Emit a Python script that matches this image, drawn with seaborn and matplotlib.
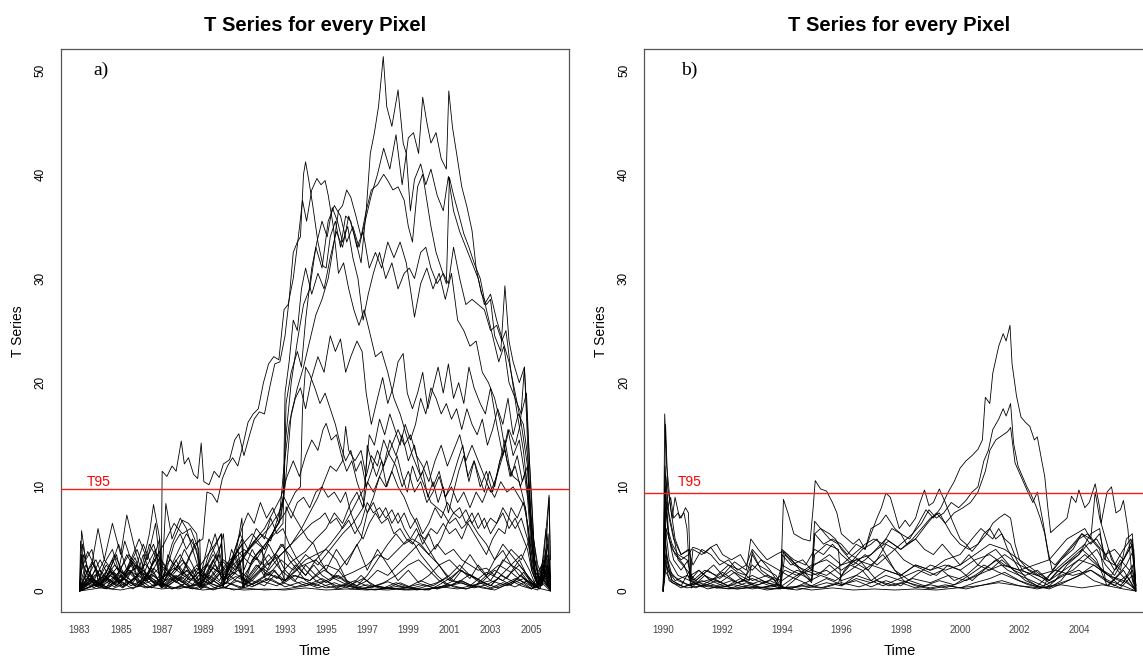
import numpy as np
import pandas as pd
import matplotlib
matplotlib.use("Agg")
import matplotlib.pyplot as plt
import seaborn as sns

# ---------------- data: panel a (1983-2005, T series per pixel) -------------
A01 = [(1983.0,0.2),(1983.5,1.0),(1984.0,0.6),(1984.6,1.8),(1985.2,1.2),(1985.8,2.4),(1986.4,1.5),(1987.0,0.3),(1987.6,1.2),(1988.3,2.0),(1988.9,0.4),(1989.5,1.5),(1990.0,2.8),(1990.5,1.6),(1991.0,3.5),(1991.5,4.8),(1992.0,4.0),(1992.4,5.5),(1992.8,7.0),(1992.92,9.0),(1993.0,19.0),(1993.2,22.0),(1993.4,26.0),(1993.6,25.0),(1993.8,29.0),(1994.0,31.0),(1994.3,28.5),(1994.6,30.5),(1994.9,29.0),(1995.2,32.0),(1995.5,34.5),(1995.8,33.0),(1996.1,36.0),(1996.4,34.0),(1996.7,31.5),(1996.95,36.5),(1997.15,42.0),(1997.35,44.0),(1997.55,46.5),(1997.78,51.3),(1997.95,46.5),(1998.2,44.6),(1998.5,48.1),(1998.75,43.0),(1998.9,42.0),(1999.1,36.5),(1999.3,39.5),(1999.6,41.0),(1999.85,39.0),(2000.1,40.5),(2000.4,38.0),(2000.7,36.5),(2000.95,39.8),(2001.2,36.5),(2001.5,34.5),(2001.8,33.0),(2002.1,31.5),(2002.4,30.0),(2002.7,27.5),(2003.0,28.5),(2003.3,26.0),(2003.6,24.0),(2003.9,22.0),(2004.2,19.0),(2004.5,16.0),(2004.8,12.0),(2005.0,6.0),(2005.2,1.5),(2005.5,2.5),(2005.75,1.0),(2005.92,0.3)]
A02 = [(1983.0,0.0),(1983.4,0.8),(1984.0,0.3),(1984.7,1.4),(1985.3,0.6),(1986.0,1.9),(1986.6,0.8),(1987.3,1.6),(1988.0,0.5),(1988.7,2.2),(1989.4,1.0),(1990.1,2.5),(1990.7,3.8),(1991.3,2.6),(1991.9,4.2),(1992.5,5.5),(1992.9,6.5),(1993.0,14.0),(1993.3,20.0),(1993.6,24.0),(1993.9,27.5),(1994.2,29.0),(1994.5,33.0),(1994.8,31.0),(1995.1,35.5),(1995.4,37.0),(1995.7,36.0),(1996.0,33.5),(1996.3,35.0),(1996.6,33.0),(1996.9,35.5),(1997.2,38.0),(1997.5,40.0),(1997.8,42.5),(1998.1,40.5),(1998.4,43.8),(1998.7,39.0),(1999.0,43.5),(1999.25,44.0),(1999.5,42.0),(1999.7,47.4),(1999.9,45.0),(2000.1,43.0),(2000.35,44.0),(2000.6,41.5),(2000.85,40.5),(2000.97,48.0),(2001.15,44.5),(2001.35,42.0),(2001.6,38.8),(2001.85,36.9),(2002.1,34.6),(2002.3,31.0),(2002.55,28.6),(2002.8,27.5),(2003.0,28.0),(2003.2,24.5),(2003.5,23.0),(2003.7,29.3),(2003.9,24.0),(2004.1,22.0),(2004.4,20.0),(2004.65,21.5),(2004.85,14.0),(2005.0,9.0),(2005.15,3.0),(2005.4,1.0),(2005.7,3.5),(2005.92,0.5)]
A03 = [(1983.0,0.5),(1983.3,2.5),(1983.7,1.0),(1984.2,3.0),(1984.8,1.5),(1985.4,3.5),(1986.0,2.0),(1986.6,4.5),(1986.98,2.0),(1987.02,11.5),(1987.25,11.0),(1987.5,12.0),(1987.7,11.5),(1987.95,14.4),(1988.1,12.2),(1988.3,12.8),(1988.55,11.2),(1988.75,10.8),(1988.92,14.2),(1989.05,10.5),(1989.3,10.2),(1989.55,11.5),(1989.8,10.9),(1990.0,12.2),(1990.3,12.6),(1990.55,14.5),(1990.75,15.1),(1991.0,13.0),(1991.25,14.8),(1991.5,16.5),(1991.75,17.2),(1992.0,17.0),(1992.25,19.5),(1992.5,21.8),(1992.75,22.0),(1993.0,24.5),(1993.2,28.0),(1993.4,32.5),(1993.6,33.5),(1993.75,34.0),(1993.9,40.0),(1994.0,41.2),(1994.15,39.5),(1994.35,37.0),(1994.6,33.5),(1994.85,31.2),(1995.0,31.0),(1995.2,34.0),(1995.45,35.5),(1995.7,33.0),(1995.95,36.0),(1996.2,35.5),(1996.5,33.0),(1996.8,34.5),(1997.1,31.0),(1997.4,32.5),(1997.7,31.0),(1998.0,33.5),(1998.3,32.0),(1998.6,33.5),(1998.9,31.5),(1999.1,29.0),(1999.3,26.3),(1999.6,29.5),(1999.9,31.0),(2000.2,29.0),(2000.5,30.5),(2000.8,28.0),(2001.1,30.5),(2001.4,26.0),(2001.7,25.0),(2002.0,23.5),(2002.3,24.0),(2002.6,21.0),(2002.9,20.0),(2003.2,18.5),(2003.5,16.0),(2003.8,12.5),(2004.1,11.0),(2004.4,10.5),(2004.7,8.0),(2004.9,4.0),(2005.1,1.5),(2005.4,0.5),(2005.7,2.0),(2005.92,0.2)]
A04 = [(1983.0,0.0),(1983.6,1.2),(1984.3,0.4),(1985.0,2.0),(1985.6,0.8),(1986.2,2.6),(1986.8,1.2),(1987.4,3.0),(1988.0,1.8),(1988.6,4.5),(1989.0,5.0),(1989.2,9.5),(1989.45,9.3),(1989.7,8.5),(1989.95,10.8),(1990.2,12.0),(1990.45,12.8),(1990.7,12.0),(1990.95,14.0),(1991.2,16.2),(1991.45,17.0),(1991.7,17.5),(1991.95,20.0),(1992.2,21.8),(1992.45,22.5),(1992.7,22.2),(1992.95,27.0),(1993.15,27.5),(1993.4,30.0),(1993.65,34.0),(1993.85,37.5),(1994.05,35.5),(1994.3,38.5),(1994.55,39.6),(1994.75,39.0),(1994.95,39.4),(1995.1,38.0),(1995.35,35.0),(1995.6,30.5),(1995.85,31.5),(1996.1,29.0),(1996.35,27.0),(1996.6,25.5),(1996.85,27.0),(1997.1,25.0),(1997.4,22.5),(1997.7,23.0),(1998.0,21.0),(1998.3,18.5),(1998.6,17.0),(1998.9,15.0),(1999.2,13.0),(1999.5,11.5),(1999.8,10.0),(2000.1,8.5),(2000.4,8.0),(2000.7,7.5),(2001.0,6.5),(2001.3,7.0),(2001.6,6.0),(2002.0,6.8),(2002.4,5.5),(2002.8,4.5),(2003.2,3.0),(2003.6,4.5),(2004.0,3.5),(2004.4,2.5),(2004.8,1.5),(2005.2,0.5),(2005.6,1.5),(2005.92,0.2)]
A05 = [(1983.0,0.3),(1983.5,1.5),(1984.1,0.5),(1984.8,2.2),(1985.5,1.0),(1986.1,2.0),(1986.7,0.6),(1987.3,1.8),(1988.0,0.8),(1988.7,2.5),(1989.3,1.2),(1990.0,3.0),(1990.6,2.0),(1991.2,3.8),(1991.8,5.5),(1992.3,4.8),(1992.8,8.0),(1993.0,10.0),(1993.3,17.0),(1993.6,19.5),(1993.9,21.5),(1994.2,24.0),(1994.5,26.5),(1994.8,28.0),(1995.1,30.0),(1995.35,33.0),(1995.6,36.5),(1995.8,37.0),(1996.0,38.5),(1996.2,37.8),(1996.45,36.0),(1996.7,34.0),(1996.95,36.5),(1997.2,38.5),(1997.5,39.0),(1997.8,40.0),(1998.0,39.4),(1998.25,38.5),(1998.5,38.8),(1998.8,37.5),(1999.0,35.0),(1999.2,33.5),(1999.45,38.8),(1999.7,40.0),(1999.9,37.5),(2000.1,35.0),(2000.35,32.5),(2000.6,31.0),(2000.85,29.5),(2001.0,39.7),(2001.2,38.0),(2001.45,36.2),(2001.7,34.3),(2001.95,33.0),(2002.2,31.5),(2002.5,30.0),(2002.8,27.0),(2003.1,24.5),(2003.4,22.0),(2003.65,23.5),(2003.9,20.0),(2004.2,18.5),(2004.5,17.0),(2004.75,19.0),(2004.95,10.0),(2005.1,5.0),(2005.35,1.0),(2005.6,2.0),(2005.92,0.6)]
A06 = [(1983.0,0.0),(1983.7,0.6),(1984.5,1.5),(1985.2,0.5),(1986.0,1.8),(1986.8,0.9),(1987.6,2.2),(1988.4,1.0),(1989.2,2.6),(1990.0,1.5),(1990.8,3.2),(1991.5,4.5),(1992.2,6.0),(1992.7,7.5),(1992.95,9.0),(1993.05,18.0),(1993.3,21.0),(1993.6,23.0),(1993.8,21.5),(1994.0,26.0),(1994.3,31.0),(1994.55,33.5),(1994.8,35.5),(1995.05,34.0),(1995.3,36.8),(1995.55,35.5),(1995.8,33.5),(1996.05,35.0),(1996.3,32.0),(1996.55,30.0),(1996.8,26.0),(1997.05,28.5),(1997.3,30.5),(1997.6,32.5),(1997.9,30.0),(1998.2,31.5),(1998.5,29.0),(1998.8,30.5),(1999.05,31.0),(1999.3,30.0),(1999.6,32.5),(1999.85,33.0),(2000.1,31.0),(2000.4,29.5),(2000.7,30.5),(2000.95,29.5),(2001.2,33.0),(2001.5,30.0),(2001.8,27.5),(2002.1,28.0),(2002.4,27.5),(2002.7,27.0),(2003.0,25.0),(2003.3,25.5),(2003.55,24.0),(2003.75,25.0),(2004.0,21.0),(2004.3,17.0),(2004.6,13.5),(2004.85,9.0),(2005.05,5.5),(2005.3,2.5),(2005.6,1.0),(2005.92,0.4)]
A07 = [(1983.0,0.4),(1983.8,1.6),(1984.6,0.7),(1985.4,2.0),(1986.2,1.0),(1987.0,2.4),(1987.8,1.0),(1988.6,2.0),(1989.4,0.8),(1990.2,2.5),(1991.0,4.0),(1991.6,3.0),(1992.2,5.0),(1992.7,6.5),(1992.95,12.0),(1993.2,16.0),(1993.5,18.5),(1993.75,19.5),(1994.0,17.5),(1994.3,20.5),(1994.6,22.5),(1994.9,21.0),(1995.2,24.5),(1995.45,23.0),(1995.7,24.2),(1995.95,21.0),(1996.2,22.5),(1996.5,24.0),(1996.75,23.0),(1996.95,19.0),(1997.2,16.0),(1997.5,18.5),(1997.75,20.5),(1998.0,18.0),(1998.25,19.5),(1998.5,22.0),(1998.75,22.8),(1998.95,19.0),(1999.2,17.5),(1999.45,19.0),(1999.7,21.0),(1999.95,17.5),(2000.2,19.5),(2000.45,21.5),(2000.7,19.0),(2000.95,21.8),(2001.2,18.5),(2001.45,20.0),(2001.7,18.0),(2001.95,21.5),(2002.2,19.5),(2002.5,18.0),(2002.75,17.0),(2003.0,19.5),(2003.3,16.0),(2003.6,13.0),(2003.9,15.5),(2004.2,14.0),(2004.45,16.0),(2004.65,21.5),(2004.85,12.0),(2005.0,5.0),(2005.2,1.0),(2005.5,0.5),(2005.75,2.5),(2005.92,0.3)]
A08 = [(1983.0,0.1),(1983.4,2.0),(1983.9,0.6),(1984.5,1.8),(1985.1,0.4),(1985.7,2.5),(1986.3,1.0),(1986.9,3.2),(1987.5,1.5),(1988.1,2.8),(1988.8,1.0),(1989.5,3.5),(1990.1,2.0),(1990.8,4.2),(1991.4,5.5),(1992.0,4.0),(1992.5,6.0),(1993.0,7.5),(1993.5,9.5),(1993.75,10.0),(1993.85,17.5),(1994.0,21.5),(1994.2,20.8),(1994.45,19.5),(1994.7,18.0),(1994.95,19.0),(1995.2,17.5),(1995.45,16.0),(1995.7,14.0),(1995.95,12.5),(1996.2,13.5),(1996.45,11.5),(1996.7,12.5),(1996.95,10.0),(1997.2,11.5),(1997.5,13.5),(1997.8,12.0),(1998.1,14.5),(1998.4,13.0),(1998.7,15.0),(1999.0,12.5),(1999.3,14.0),(1999.6,11.0),(1999.9,12.5),(2000.2,10.0),(2000.5,11.5),(2000.8,9.0),(2001.1,10.5),(2001.4,12.5),(2001.65,14.0),(2001.9,11.0),(2002.2,12.5),(2002.5,10.0),(2002.8,11.5),(2003.1,9.5),(2003.4,12.0),(2003.7,14.5),(2004.0,11.0),(2004.3,13.0),(2004.55,10.5),(2004.8,12.0),(2004.95,6.0),(2005.15,2.0),(2005.4,1.0),(2005.7,4.0),(2005.92,0.8)]
A09 = [(1983.0,0.0),(1983.6,0.8),(1984.3,0.2),(1985.0,1.4),(1985.8,0.4),(1986.5,1.6),(1987.2,0.5),(1988.0,1.8),(1988.8,0.6),(1989.5,2.2),(1990.2,1.2),(1990.9,3.0),(1991.5,4.8),(1992.0,6.0),(1992.4,7.5),(1992.8,9.0),(1993.1,11.0),(1993.4,12.5),(1993.7,11.0),(1994.0,13.0),(1994.3,14.5),(1994.6,13.5),(1994.85,15.5),(1995.0,16.1),(1995.25,14.5),(1995.5,15.0),(1995.75,13.0),(1996.0,11.5),(1996.25,12.5),(1996.5,10.5),(1996.75,9.0),(1997.0,7.5),(1997.3,8.5),(1997.6,7.0),(1997.9,8.0),(1998.2,6.5),(1998.5,7.5),(1998.8,6.0),(1999.1,5.0),(1999.4,6.0),(1999.7,4.5),(2000.0,5.5),(2000.3,4.0),(2000.6,5.0),(2000.9,6.5),(2001.2,7.5),(2001.5,7.0),(2001.8,7.8),(2002.1,6.5),(2002.4,7.5),(2002.7,6.0),(2003.0,7.0),(2003.3,6.5),(2003.6,8.0),(2003.9,7.0),(2004.2,6.0),(2004.5,7.0),(2004.8,5.0),(2005.0,2.5),(2005.3,0.8),(2005.6,1.5),(2005.92,0.2)]
A10 = [(1983.0,0.2),(1983.5,1.2),(1984.2,0.3),(1984.9,1.0),(1985.6,0.2),(1986.3,1.3),(1987.0,0.4),(1987.7,1.5),(1988.4,0.5),(1989.1,1.6),(1989.8,0.6),(1990.5,1.8),(1991.2,0.8),(1991.9,2.2),(1992.6,1.2),(1993.3,2.8),(1994.0,3.8),(1994.5,5.0),(1995.0,6.0),(1995.4,7.5),(1995.8,6.5),(1996.2,8.5),(1996.5,9.5),(1996.8,8.0),(1996.95,12.0),(1997.1,15.0),(1997.35,14.0),(1997.6,16.5),(1997.85,15.0),(1998.1,17.0),(1998.35,15.5),(1998.6,14.0),(1998.85,16.0),(1999.1,14.5),(1999.35,16.0),(1999.6,18.5),(1999.85,17.0),(2000.1,19.5),(2000.35,18.5),(2000.6,17.0),(2000.85,18.0),(2001.1,16.5),(2001.35,17.5),(2001.6,15.5),(2001.85,17.5),(2002.1,16.0),(2002.35,15.0),(2002.6,16.5),(2002.85,14.0),(2003.1,15.5),(2003.35,17.5),(2003.6,16.0),(2003.85,18.5),(2004.1,15.0),(2004.35,17.0),(2004.6,16.0),(2004.8,13.0),(2004.95,8.0),(2005.15,3.0),(2005.4,0.8),(2005.7,2.5),(2005.92,0.4)]
A11 = [(1983.0,0.0),(1983.7,0.5),(1984.4,1.2),(1985.1,0.3),(1985.9,1.5),(1986.6,0.5),(1987.4,1.2),(1988.2,0.3),(1989.0,1.0),(1989.8,0.4),(1990.6,1.4),(1991.4,0.6),(1992.2,1.6),(1993.0,1.0),(1993.8,2.4),(1994.5,3.0),(1995.2,4.5),(1995.7,5.8),(1996.2,7.5),(1996.6,9.0),(1996.9,10.0),(1997.0,14.0),(1997.2,12.5),(1997.45,11.0),(1997.7,12.5),(1997.95,10.0),(1998.2,11.5),(1998.45,13.0),(1998.7,11.0),(1998.95,9.5),(1999.2,12.0),(1999.45,10.5),(1999.7,11.5),(1999.95,9.0),(2000.2,10.5),(2000.45,8.5),(2000.7,10.0),(2000.95,7.5),(2001.2,9.5),(2001.45,11.5),(2001.7,13.0),(2001.95,10.5),(2002.2,12.5),(2002.45,11.0),(2002.7,9.5),(2002.95,11.5),(2003.2,10.0),(2003.45,12.5),(2003.7,13.5),(2003.95,11.0),(2004.2,12.0),(2004.45,10.0),(2004.7,11.5),(2004.9,7.5),(2005.05,4.0),(2005.3,1.5),(2005.6,1.0),(2005.85,9.0),(2005.92,3.0)]
A12 = [(1983.0,0.1),(1983.3,1.5),(1983.8,0.5),(1984.4,2.2),(1985.0,0.8),(1985.6,2.8),(1986.2,1.2),(1986.8,3.5),(1987.4,1.5),(1988.0,3.0),(1988.6,1.0),(1989.2,2.5),(1989.8,1.0),(1990.4,2.8),(1991.0,1.5),(1991.6,3.2),(1992.2,2.0),(1992.8,3.5),(1993.3,4.5),(1993.8,5.5),(1994.3,6.5),(1994.7,7.0),(1994.95,7.5),(1995.2,6.5),(1995.5,7.0),(1995.8,6.0),(1996.1,6.8),(1996.4,5.5),(1996.7,6.5),(1997.0,8.5),(1997.3,7.5),(1997.6,8.0),(1997.9,7.0),(1998.2,7.8),(1998.5,6.5),(1998.8,7.5),(1999.1,6.0),(1999.4,7.0),(1999.7,5.5),(2000.0,6.5),(2000.3,8.0),(2000.6,7.0),(2000.9,8.5),(2001.2,7.5),(2001.5,8.0),(2001.8,6.5),(2002.1,7.5),(2002.4,6.0),(2002.7,7.0),(2003.0,5.5),(2003.3,6.5),(2003.6,7.5),(2003.9,6.0),(2004.2,7.0),(2004.5,5.5),(2004.8,4.0),(2005.0,2.0),(2005.3,0.5),(2005.6,3.5),(2005.85,9.2),(2005.92,0.5)]
A13 = [(1983.0,0.3),(1983.6,2.8),(1984.1,1.0),(1984.7,3.5),(1985.2,1.5),(1985.8,4.0),(1986.3,1.2),(1986.9,5.0),(1987.0,0.5),(1987.6,3.0),(1988.2,5.5),(1988.7,4.0),(1988.9,0.8),(1989.5,3.0),(1990.0,1.0),(1990.6,3.5),(1991.0,0.8),(1991.6,2.5),(1992.2,1.5),(1992.8,3.0),(1993.4,2.0),(1994.0,3.5),(1994.6,2.5),(1995.2,4.0),(1995.8,5.5),(1996.3,6.5),(1996.8,8.0),(1997.0,10.5),(1997.3,9.5),(1997.6,11.0),(1997.9,10.0),(1998.2,11.5),(1998.5,10.0),(1998.8,9.0),(1999.1,7.5),(1999.4,6.5),(1999.7,5.0),(2000.0,4.0),(2000.3,3.0),(2000.6,2.2),(2000.9,1.5),(2001.2,1.0),(2001.6,2.0),(2002.0,1.2),(2002.4,2.5),(2002.8,1.5),(2003.2,3.0),(2003.6,3.9),(2004.0,2.5),(2004.4,1.5),(2004.8,1.0),(2005.2,0.4),(2005.6,2.0),(2005.92,0.2)]
A14 = [(1983.0,0.0),(1983.5,1.0),(1984.0,3.0),(1984.4,1.5),(1984.9,4.5),(1985.3,2.0),(1985.9,5.0),(1986.3,3.0),(1986.7,6.5),(1987.0,1.0),(1987.5,4.5),(1988.0,6.8),(1988.3,6.5),(1988.7,5.5),(1988.9,1.0),(1989.4,3.5),(1989.9,5.5),(1990.0,1.0),(1990.5,3.5),(1990.9,6.0),(1991.2,7.5),(1991.5,6.5),(1991.8,8.5),(1992.1,7.0),(1992.4,8.0),(1992.7,6.5),(1992.95,9.0),(1993.2,8.0),(1993.5,7.0),(1993.8,6.0),(1994.1,5.0),(1994.4,4.5),(1994.7,3.0),(1995.0,2.0),(1995.4,1.2),(1995.8,0.8),(1996.2,0.5),(1996.7,1.5),(1997.2,0.6),(1997.8,0.3),(1998.4,0.8),(1999.0,0.4),(1999.6,1.0),(2000.2,0.5),(2000.8,1.2),(2001.4,0.8),(2002.0,1.6),(2002.6,0.9),(2003.2,2.0),(2003.8,1.2),(2004.4,3.0),(2004.9,1.0),(2005.3,0.3),(2005.7,1.8),(2005.92,0.1)]
A15 = [(1983.0,0.0),(1983.1,5.8),(1983.3,3.0),(1983.6,4.0),(1983.9,1.0),(1984.3,2.5),(1984.8,1.2),(1985.3,3.5),(1985.7,2.0),(1986.1,4.5),(1986.5,2.5),(1986.9,3.8),(1987.0,0.5),(1987.4,2.0),(1987.9,3.5),(1988.3,2.0),(1988.9,0.2),(1989.5,1.0),(1990.1,0.3),(1990.8,1.5),(1991.5,0.5),(1992.3,1.2),(1993.0,0.4),(1993.8,0.9),(1994.6,0.3),(1995.4,0.8),(1996.2,0.2),(1997.0,0.6),(1997.8,0.2),(1998.6,0.5),(1999.4,0.1),(2000.2,0.3),(2001.0,0.6),(2001.8,0.2),(2002.6,0.8),(2003.4,0.3),(2004.2,1.0),(2004.8,0.4),(2005.3,0.1),(2005.8,2.5),(2005.92,0.0)]
A16 = [(1983.0,0.5),(1983.2,3.5),(1983.5,1.5),(1983.9,6.0),(1984.2,3.0),(1984.6,6.5),(1985.0,3.5),(1985.3,7.3),(1985.7,4.0),(1986.0,2.0),(1986.4,5.5),(1986.6,8.3),(1986.9,5.0),(1987.0,1.0),(1987.2,8.4),(1987.5,5.0),(1987.9,7.0),(1988.2,6.0),(1988.5,4.0),(1988.9,1.5),(1989.3,5.0),(1989.7,3.0),(1990.0,5.5),(1990.2,1.0),(1990.6,3.5),(1990.9,7.0),(1991.0,2.0),(1991.4,4.0),(1991.8,2.5),(1992.2,4.5),(1992.6,3.0),(1993.0,1.0),(1993.5,2.5),(1994.0,1.5),(1994.5,3.0),(1995.0,2.0),(1995.5,4.0),(1996.0,2.5),(1996.5,4.5),(1997.0,2.0),(1997.5,4.0),(1998.0,2.5),(1998.5,1.0),(1999.0,2.0),(1999.5,0.8),(2000.0,1.5),(2000.5,2.5),(2001.0,1.0),(2001.5,2.0),(2002.0,3.5),(2002.5,2.0),(2003.0,1.0),(2003.5,2.5),(2004.0,4.0),(2004.5,3.0),(2004.9,5.0),(2005.2,1.0),(2005.6,3.0),(2005.92,0.5)]
A17 = [(1983.0,0.0),(1983.15,4.5),(1983.4,2.0),(1983.8,3.0),(1984.2,1.0),(1984.7,2.5),(1985.2,1.5),(1985.7,3.2),(1986.1,1.0),(1986.6,2.8),(1987.1,4.5),(1987.6,6.5),(1988.0,5.5),(1988.4,6.0),(1988.8,4.0),(1988.9,0.5),(1989.4,2.5),(1989.9,4.5),(1990.0,0.8),(1990.5,3.0),(1990.9,5.0),(1991.0,0.5),(1991.6,2.0),(1992.2,3.5),(1992.8,2.0),(1993.4,1.0),(1994.0,0.5),(1994.8,1.2),(1995.6,0.4),(1996.4,1.0),(1997.2,0.3),(1998.0,0.9),(1998.8,0.3),(1999.6,0.7),(2000.4,0.2),(2001.2,1.0),(2002.0,0.5),(2002.8,1.8),(2003.6,1.0),(2004.4,2.5),(2005.0,1.0),(2005.4,0.2),(2005.8,4.5),(2005.92,0.5)]
A18 = [(1983.0,0.2),(1983.3,2.0),(1983.7,0.8),(1984.2,1.5),(1984.8,0.5),(1985.4,2.0),(1986.0,0.8),(1986.6,2.2),(1987.2,1.0),(1987.8,2.5),(1988.4,1.0),(1989.0,2.8),(1989.6,4.5),(1989.9,5.5),(1990.0,0.5),(1990.4,3.0),(1990.8,5.5),(1991.2,4.0),(1991.6,6.0),(1992.0,5.0),(1992.3,7.0),(1992.6,5.5),(1992.9,6.0),(1993.2,4.5),(1993.6,3.0),(1994.0,2.0),(1994.5,1.0),(1995.0,0.5),(1995.6,0.2),(1996.2,0.5),(1996.8,0.2),(1997.4,0.1),(1998.0,0.3),(1998.8,0.1),(1999.6,0.3),(2000.4,0.8),(2001.0,1.5),(2001.5,2.5),(2002.0,1.5),(2002.5,0.8),(2003.0,0.3),(2003.6,0.8),(2004.2,0.4),(2004.8,1.0),(2005.3,0.3),(2005.7,1.5),(2005.92,0.1)]
A19 = [(1983.0,0.0),(1983.5,0.8),(1984.0,2.0),(1984.5,0.8),(1985.0,1.5),(1985.5,0.5),(1986.0,1.0),(1986.5,0.3),(1987.0,0.8),(1987.5,0.2),(1988.0,0.5),(1988.5,0.2),(1989.0,0.6),(1989.5,0.1),(1990.0,0.4),(1990.5,0.1),(1991.0,0.3),(1992.0,0.1),(1993.0,0.2),(1994.0,0.5),(1995.0,1.0),(1995.5,1.5),(1996.0,0.8),(1996.5,0.4),(1997.0,0.2),(1998.0,0.1),(1999.0,0.3),(2000.0,0.1),(2000.5,0.6),(2001.0,1.2),(2001.5,2.0),(2002.0,1.5),(2002.5,1.0),(2003.0,0.5),(2003.5,1.5),(2004.0,1.0),(2004.5,0.5),(2005.0,0.2),(2005.5,0.8),(2005.92,0.0)]
A20 = [(1983.0,0.1),(1983.4,1.2),(1983.9,0.4),(1984.5,1.5),(1985.1,0.4),(1985.7,1.2),(1986.3,0.3),(1986.9,0.9),(1987.5,0.2),(1988.1,0.7),(1988.7,0.2),(1989.3,0.8),(1990.0,0.3),(1990.7,1.0),(1991.4,0.4),(1992.1,1.2),(1992.8,0.6),(1993.5,1.5),(1994.2,1.0),(1994.9,2.0),(1995.6,1.2),(1996.3,1.8),(1997.0,2.5),(1997.5,3.5),(1998.0,3.0),(1998.5,4.0),(1999.0,5.0),(1999.3,4.5),(1999.6,3.5),(2000.0,2.5),(2000.4,1.5),(2000.8,0.8),(2001.2,0.4),(2001.8,0.2),(2002.4,0.5),(2003.0,0.2),(2003.6,0.6),(2004.2,1.2),(2004.7,0.8),(2005.1,0.3),(2005.6,1.0),(2005.92,0.1)]
A21 = [(1983.0,0.0),(1983.1,3.5),(1983.3,1.0),(1983.7,2.5),(1984.0,0.5),(1984.5,2.0),(1985.0,1.0),(1985.5,3.0),(1986.0,1.5),(1986.4,4.5),(1986.8,3.0),(1987.0,0.3),(1987.3,3.5),(1987.7,2.0),(1988.1,4.0),(1988.5,2.5),(1988.9,0.5),(1989.2,3.0),(1989.6,5.5),(1989.9,3.0),(1990.0,0.5),(1990.4,4.0),(1990.7,2.5),(1991.0,0.3),(1991.4,3.0),(1991.8,4.0),(1992.2,2.5),(1992.6,3.5),(1993.0,2.0),(1993.5,1.0),(1994.0,2.5),(1994.5,1.5),(1995.0,0.8),(1995.6,1.5),(1996.2,0.6),(1996.8,1.2),(1997.4,0.5),(1998.0,0.3),(1998.6,0.8),(1999.2,0.3),(1999.8,0.6),(2000.4,0.2),(2001.0,0.5),(2001.6,1.0),(2002.2,0.4),(2002.8,1.5),(2003.4,2.5),(2004.0,1.8),(2004.6,0.8),(2005.0,0.2),(2005.5,1.5),(2005.92,0.2)]
A22 = [(1983.0,0.3),(1983.5,1.5),(1984.0,0.5),(1984.6,3.0),(1985.0,1.5),(1985.5,2.5),(1986.0,0.7),(1986.5,2.2),(1987.0,0.5),(1987.6,1.5),(1988.2,0.6),(1988.8,1.8),(1989.4,0.7),(1990.0,2.0),(1990.6,1.0),(1991.2,0.5),(1991.8,1.2),(1992.4,2.0),(1993.0,1.0),(1993.5,2.0),(1994.0,3.0),(1994.5,3.5),(1995.0,4.0),(1995.5,3.0),(1996.0,1.0),(1996.5,0.5),(1997.0,1.5),(1997.5,3.0),(1998.0,4.5),(1998.4,5.5),(1998.8,4.5),(1999.2,5.0),(1999.6,4.5),(2000.0,3.5),(2000.4,4.5),(2000.8,3.5),(2001.2,4.0),(2001.6,3.0),(2002.0,2.5),(2002.4,2.0),(2002.8,2.2),(2003.2,1.5),(2003.6,3.0),(2004.0,2.5),(2004.4,2.0),(2004.8,1.0),(2005.2,0.3),(2005.6,0.8),(2005.92,0.1)]
A23 = [(1983.0,0.0),(1983.6,0.5),(1984.2,1.5),(1984.8,0.5),(1985.4,1.8),(1986.0,0.6),(1986.6,1.5),(1987.2,0.4),(1987.8,1.2),(1988.4,0.3),(1989.0,1.0),(1989.6,0.3),(1990.2,0.8),(1990.8,0.3),(1991.4,1.0),(1992.0,0.5),(1992.5,1.5),(1992.95,1.0),(1993.05,8.1),(1993.3,7.0),(1993.6,8.5),(1993.9,9.0),(1994.2,8.0),(1994.5,9.5),(1994.8,10.0),(1995.1,9.0),(1995.4,9.5),(1995.7,8.5),(1995.95,9.5),(1996.2,7.5),(1996.5,6.0),(1996.8,5.0),(1997.1,6.5),(1997.4,7.5),(1997.7,6.5),(1998.0,7.0),(1998.3,5.5),(1998.6,6.0),(1998.9,5.0),(1999.2,4.5),(1999.5,5.5),(1999.8,5.0),(2000.1,6.0),(2000.4,5.5),(2000.7,6.5),(2001.0,5.5),(2001.3,6.0),(2001.6,5.0),(2001.9,6.5),(2002.2,5.5),(2002.5,4.5),(2002.8,3.5),(2003.1,5.0),(2003.4,6.0),(2003.7,5.5),(2004.0,8.0),(2004.3,7.0),(2004.6,8.5),(2004.85,6.0),(2005.0,2.0),(2005.3,0.5),(2005.6,2.5),(2005.92,0.3)]
A24 = [(1983.0,0.0),(1984.0,0.3),(1985.0,0.1),(1986.0,0.5),(1987.0,0.2),(1988.0,0.4),(1989.0,0.1),(1990.0,0.3),(1991.0,0.1),(1992.0,0.2),(1993.0,0.1),(1994.0,0.3),(1995.0,0.1),(1996.0,0.2),(1997.0,0.1),(1998.0,0.3),(1999.0,0.1),(2000.0,0.2),(2001.0,0.5),(2001.5,1.0),(2002.0,0.6),(2002.6,0.3),(2003.2,0.1),(2004.0,0.8),(2004.5,1.5),(2005.0,0.5),(2005.5,0.2),(2005.92,0.0)]
A25 = [(1983.0,0.2),(1983.7,1.0),(1984.4,0.3),(1985.1,1.2),(1985.8,0.4),(1986.5,1.0),(1987.2,0.3),(1987.9,1.4),(1988.6,0.5),(1989.3,1.5),(1990.0,0.6),(1990.7,2.0),(1991.4,1.0),(1992.1,2.5),(1992.8,3.5),(1993.3,4.5),(1993.8,6.0),(1994.2,7.5),(1994.6,9.0),(1994.9,10.5),(1995.2,12.0),(1995.5,11.5),(1995.8,12.5),(1995.95,15.8),(1996.1,13.5),(1996.4,12.5),(1996.7,13.5),(1996.95,11.0),(1997.2,13.0),(1997.5,12.0),(1997.8,14.5),(1998.1,13.0),(1998.4,12.0),(1998.7,10.0),(1999.0,11.5),(1999.3,9.5),(1999.6,10.5),(1999.9,8.5),(2000.2,9.5),(2000.5,11.0),(2000.8,9.0),(2001.1,10.0),(2001.4,8.5),(2001.7,9.5),(2002.0,8.0),(2002.3,9.5),(2002.6,8.5),(2002.9,10.0),(2003.2,9.0),(2003.5,10.5),(2003.8,9.5),(2004.1,10.0),(2004.4,9.0),(2004.7,8.0),(2004.9,5.0),(2005.1,2.0),(2005.4,0.5),(2005.7,6.0),(2005.92,1.0)]
A26 = [(1983.0,0.0),(1983.8,0.6),(1984.6,0.2),(1985.4,0.9),(1986.2,0.3),(1987.0,0.7),(1987.8,0.2),(1988.6,0.6),(1989.4,0.2),(1990.2,0.8),(1991.0,0.3),(1991.8,1.0),(1992.6,0.5),(1993.4,1.5),(1994.2,1.0),(1995.0,2.5),(1995.6,2.0),(1996.2,3.5),(1996.7,5.0),(1997.0,7.5),(1997.3,9.0),(1997.6,11.0),(1997.9,12.5),(1998.2,14.0),(1998.5,15.5),(1998.8,14.0),(1999.1,15.0),(1999.4,13.0),(1999.7,12.0),(2000.0,10.5),(2000.3,12.5),(2000.6,14.0),(2000.9,12.0),(2001.2,13.5),(2001.5,15.0),(2001.8,12.5),(2002.1,14.0),(2002.4,12.5),(2002.7,11.0),(2003.0,9.5),(2003.3,11.0),(2003.6,13.0),(2003.85,15.5),(2004.1,13.0),(2004.4,14.5),(2004.6,12.0),(2004.8,9.0),(2004.95,5.0),(2005.2,1.5),(2005.5,0.5),(2005.8,5.5),(2005.92,0.8)]
A27 = [(1983.0,0.0),(1983.05,4.8),(1983.2,2.5),(1983.5,1.0),(1983.8,2.2),(1984.1,0.6),(1984.4,1.8),(1984.8,3.5),(1985.1,1.0),(1985.5,2.0),(1985.9,0.5),(1986.3,2.5),(1986.7,4.0),(1986.95,0.4),(1987.3,1.5),(1987.7,3.0),(1988.0,1.5),(1988.4,3.5),(1988.85,5.0),(1988.92,0.3),(1989.3,2.0),(1989.7,3.5),(1989.95,0.5),(1990.3,2.5),(1990.7,4.0),(1990.95,0.3),(1991.3,1.5),(1991.7,2.5),(1992.1,1.0),(1992.5,2.0),(1992.9,0.8),(1993.5,0.4),(1994.2,0.8),(1995.0,0.3),(1995.8,0.6),(1996.6,0.2),(1997.4,0.5),(1998.2,0.2),(1999.0,0.4),(1999.8,0.1),(2000.6,0.4),(2001.4,0.2),(2002.2,0.6),(2003.0,1.0),(2003.8,0.5),(2004.6,1.2),(2005.0,0.5),(2005.5,2.0),(2005.8,3.5),(2005.92,0.2)]
A28 = [(1983.0,0.0),(1983.1,2.0),(1983.4,3.8),(1983.7,2.5),(1984.0,1.5),(1984.3,3.0),(1984.6,4.0),(1984.9,2.0),(1985.2,4.8),(1985.5,3.0),(1985.8,1.5),(1986.1,3.5),(1986.4,2.0),(1986.7,3.0),(1987.0,0.8),(1987.3,2.5),(1987.6,4.5),(1987.9,5.5),(1988.2,4.0),(1988.5,5.0),(1988.8,3.0),(1988.9,0.5),(1989.2,1.5),(1989.6,2.5),(1990.0,1.0),(1990.4,2.0),(1990.8,3.0),(1991.0,0.5),(1991.5,1.5),(1992.0,2.5),(1992.5,3.5),(1992.9,4.5),(1993.2,3.0),(1993.6,2.0),(1994.0,1.0),(1994.5,0.5),(1995.0,1.0),(1995.5,0.3),(1996.0,0.6),(1996.6,0.2),(1997.2,0.4),(1997.8,0.8),(1998.4,1.5),(1999.0,2.5),(1999.5,3.0),(2000.0,2.0),(2000.5,1.0),(2001.0,0.5),(2001.6,0.8),(2002.2,0.3),(2002.8,0.6),(2003.4,1.2),(2004.0,0.6),(2004.6,1.8),(2005.0,0.8),(2005.4,0.2),(2005.7,3.0),(2005.92,0.0)]
A29 = [(1983.0,0.0),(1983.3,0.8),(1983.7,0.3),(1984.2,1.0),(1984.7,0.4),(1985.2,1.2),(1985.7,0.5),(1986.2,1.5),(1986.7,0.6),(1987.2,1.8),(1987.7,0.8),(1988.2,2.0),(1988.7,1.0),(1989.0,0.3),(1989.4,2.0),(1989.8,3.5),(1990.0,1.0),(1990.3,2.5),(1990.6,3.5),(1990.9,4.5),(1991.0,1.0),(1991.3,2.5),(1991.6,3.5),(1991.9,4.0),(1992.0,1.5),(1992.4,3.0),(1992.8,4.5),(1993.2,3.5),(1993.6,2.5),(1994.0,1.5),(1994.4,2.5),(1994.8,1.5),(1995.2,1.0),(1995.6,2.0),(1996.0,1.0),(1996.5,0.5),(1997.0,1.0),(1997.5,2.0),(1998.0,1.5),(1998.5,2.5),(1999.0,3.5),(1999.5,4.5),(2000.0,3.5),(2000.5,2.5),(2001.0,3.0),(2001.5,2.0),(2002.0,1.5),(2002.5,1.0),(2003.0,0.5),(2003.5,1.5),(2004.0,2.5),(2004.5,3.5),(2004.9,2.0),(2005.2,0.5),(2005.6,1.0),(2005.92,0.1)]

# ---------------- data: panel b (1990-2005) ----------------
B01 = [(1990.0,0.0),(1990.08,9.5),(1990.2,5.0),(1990.4,3.5),(1990.7,2.5),(1990.9,1.0),(1991.2,2.0),(1991.6,1.0),(1992.0,1.8),(1992.5,0.8),(1993.0,1.5),(1993.5,0.8),(1993.95,0.5),(1994.0,3.5),(1994.3,2.5),(1994.7,3.0),(1995.0,2.0),(1995.1,6.7),(1995.3,6.0),(1995.6,5.0),(1995.9,4.5),(1996.2,3.5),(1996.5,4.5),(1996.8,4.0),(1997.0,6.0),(1997.3,6.5),(1997.5,7.3),(1997.8,6.0),(1998.0,5.5),(1998.3,5.0),(1998.6,6.5),(1998.85,7.8),(1999.1,7.0),(1999.35,8.0),(1999.6,9.5),(1999.8,10.5),(2000.0,11.8),(2000.2,12.5),(2000.4,13.0),(2000.6,13.6),(2000.75,14.5),(2000.85,18.6),(2001.0,18.0),(2001.1,20.9),(2001.3,23.5),(2001.45,24.7),(2001.55,24.0),(2001.68,25.5),(2001.75,21.8),(2001.9,18.7),(2002.05,16.7),(2002.2,16.2),(2002.35,15.8),(2002.5,14.5),(2002.6,14.8),(2002.75,12.5),(2002.85,11.0),(2002.95,8.1),(2003.05,5.6),(2003.2,6.0),(2003.4,6.5),(2003.6,7.0),(2003.75,9.1),(2003.9,8.5),(2004.0,9.7),(2004.2,8.0),(2004.35,8.5),(2004.55,10.3),(2004.7,8.0),(2004.75,6.5),(2004.95,9.5),(2005.1,10.0),(2005.25,7.5),(2005.4,7.8),(2005.5,8.7),(2005.65,6.0),(2005.8,1.0),(2005.92,0.2)]
B02 = [(1990.0,0.0),(1990.05,17.0),(1990.12,12.0),(1990.25,8.0),(1990.4,5.0),(1990.6,3.5),(1990.85,4.0),(1991.0,2.5),(1991.3,4.0),(1991.6,3.5),(1991.9,2.5),(1992.2,3.0),(1992.5,2.0),(1992.8,2.5),(1993.0,4.0),(1993.3,3.0),(1993.6,2.0),(1993.95,0.5),(1994.05,3.8),(1994.4,3.0),(1994.8,2.5),(1995.1,4.0),(1995.4,3.5),(1995.7,4.5),(1996.0,3.5),(1996.4,2.5),(1996.8,3.5),(1997.2,2.5),(1997.6,3.5),(1998.0,4.5),(1998.4,5.5),(1998.7,6.5),(1998.95,7.8),(1999.2,7.0),(1999.45,7.5),(1999.7,8.5),(1999.95,8.0),(2000.2,8.7),(2000.4,9.5),(2000.6,10.0),(2000.8,12.5),(2000.95,13.5),(2001.1,15.5),(2001.3,16.5),(2001.45,17.5),(2001.55,16.8),(2001.7,18.0),(2001.8,14.2),(2001.95,12.0),(2002.1,11.0),(2002.25,10.0),(2002.4,9.2),(2002.55,8.2),(2002.7,7.0),(2002.85,5.5),(2003.0,3.0),(2003.2,2.5),(2003.5,3.5),(2003.8,4.5),(2004.1,5.5),(2004.4,4.5),(2004.7,5.5),(2004.9,3.0),(2005.2,2.5),(2005.5,4.0),(2005.75,5.0),(2005.92,0.5)]
B03 = [(1990.0,0.0),(1990.06,12.0),(1990.15,8.0),(1990.3,6.0),(1990.5,3.0),(1990.8,2.0),(1991.1,1.0),(1991.5,2.0),(1991.9,1.2),(1992.3,2.0),(1992.7,1.0),(1993.0,2.5),(1993.4,1.5),(1993.8,1.0),(1994.1,2.0),(1994.5,1.5),(1995.0,2.5),(1995.5,3.0),(1996.0,2.0),(1996.5,3.0),(1997.0,3.5),(1997.5,5.0),(1998.0,4.0),(1998.5,5.0),(1998.9,6.5),(1999.2,7.5),(1999.5,6.5),(1999.8,7.5),(2000.1,8.0),(2000.35,8.5),(2000.6,9.5),(2000.85,11.5),(2001.0,13.5),(2001.2,14.5),(2001.45,15.0),(2001.6,15.3),(2001.7,15.7),(2001.85,12.3),(2002.05,11.0),(2002.25,9.7),(2002.45,8.5),(2002.6,9.5),(2002.8,6.5),(2002.95,4.0),(2003.1,2.0),(2003.4,3.0),(2003.7,4.0),(2004.0,5.0),(2004.3,5.5),(2004.6,4.5),(2004.9,3.5),(2005.2,2.0),(2005.5,3.0),(2005.8,4.5),(2005.92,0.3)]
B04 = [(1990.0,0.0),(1990.1,7.5),(1990.25,9.0),(1990.35,7.0),(1990.5,7.5),(1990.6,7.0),(1990.75,8.0),(1990.85,7.5),(1990.92,1.5),(1991.2,2.0),(1991.6,1.0),(1992.0,1.5),(1992.5,0.8),(1993.0,1.2),(1993.5,0.6),(1993.95,0.3),(1994.05,8.8),(1994.2,7.5),(1994.4,5.5),(1994.7,5.0),(1994.95,4.8),(1995.05,8.0),(1995.12,10.6),(1995.3,9.8),(1995.5,9.6),(1995.7,8.5),(1995.85,7.5),(1996.0,5.5),(1996.2,5.0),(1996.4,4.5),(1996.6,5.0),(1996.8,4.0),(1997.0,5.5),(1997.2,7.0),(1997.35,8.0),(1997.5,9.4),(1997.65,9.0),(1997.8,7.5),(1997.95,6.0),(1998.15,6.8),(1998.3,6.2),(1998.5,7.0),(1998.65,8.5),(1998.8,9.7),(1998.95,8.2),(1999.1,8.5),(1999.3,9.8),(1999.5,8.5),(1999.7,7.0),(1999.85,6.0),(2000.0,5.0),(2000.2,4.5),(2000.4,3.8),(2000.6,4.5),(2000.8,5.5),(2001.0,6.0),(2001.2,5.0),(2001.4,5.5),(2001.6,4.0),(2001.8,3.0),(2002.0,2.0),(2002.3,1.0),(2002.6,0.5),(2003.0,0.3),(2003.4,1.0),(2003.8,2.5),(2004.2,3.5),(2004.6,2.5),(2005.0,1.5),(2005.4,0.5),(2005.8,2.0),(2005.92,0.2)]
B05 = [(1990.0,0.0),(1990.08,16.0),(1990.15,10.0),(1990.3,7.0),(1990.4,9.0),(1990.55,7.0),(1990.7,7.5),(1990.8,6.0),(1990.9,1.0),(1991.0,4.0),(1991.3,3.5),(1991.6,4.2),(1991.9,3.0),(1992.2,2.5),(1992.5,1.8),(1992.8,1.5),(1993.0,3.5),(1993.2,2.5),(1993.5,2.0),(1993.8,1.5),(1994.0,0.5),(1994.5,1.5),(1995.0,2.0),(1995.5,1.5),(1996.0,2.5),(1996.5,3.0),(1997.0,2.5),(1997.5,2.0),(1998.0,1.5),(1998.5,2.5),(1999.0,2.0),(1999.5,3.0),(2000.0,3.5),(2000.4,5.0),(2000.7,6.0),(2000.9,5.5),(2001.1,6.5),(2001.3,7.0),(2001.5,7.4),(2001.7,7.0),(2001.85,4.5),(2002.0,3.0),(2002.3,2.0),(2002.6,1.5),(2003.0,1.0),(2003.5,2.5),(2004.0,3.5),(2004.4,5.5),(2004.7,6.0),(2004.85,3.0),(2005.0,4.0),(2005.3,2.0),(2005.6,1.0),(2005.92,0.0)]
B06 = [(1990.0,0.0),(1990.1,6.0),(1990.3,4.0),(1990.6,3.0),(1990.85,3.5),(1991.0,4.2),(1991.2,4.0),(1991.4,3.6),(1991.6,4.2),(1991.8,4.5),(1992.0,3.5),(1992.3,3.0),(1992.6,3.5),(1992.8,2.5),(1993.0,2.0),(1993.3,3.0),(1993.6,2.5),(1993.9,2.0),(1994.2,1.5),(1994.6,1.0),(1995.0,0.5),(1995.5,1.2),(1996.0,0.6),(1996.5,1.0),(1997.0,0.4),(1997.5,1.0),(1998.0,0.5),(1998.5,1.5),(1999.0,2.5),(1999.5,2.0),(2000.0,2.5),(2000.5,3.5),(2001.0,4.5),(2001.5,4.0),(2002.0,3.0),(2002.5,2.0),(2003.0,1.0),(2003.5,2.0),(2004.0,3.0),(2004.5,2.5),(2005.0,1.5),(2005.5,1.0),(2005.92,0.2)]
B07 = [(1990.0,0.0),(1990.05,5.0),(1990.2,2.0),(1990.5,1.0),(1990.9,0.5),(1991.3,1.5),(1991.7,2.5),(1992.0,1.5),(1992.4,2.8),(1992.8,2.0),(1992.95,5.0),(1993.2,4.0),(1993.5,3.0),(1993.8,3.5),(1994.0,3.8),(1994.3,3.0),(1994.7,2.0),(1995.0,1.0),(1995.1,5.5),(1995.4,4.5),(1995.7,5.0),(1996.0,4.5),(1996.3,3.5),(1996.6,3.0),(1996.9,2.0),(1997.2,1.0),(1997.6,0.5),(1998.0,0.8),(1998.5,0.3),(1999.0,0.6),(1999.5,0.3),(2000.0,0.8),(2000.5,1.5),(2001.0,2.5),(2001.5,3.5),(2002.0,2.5),(2002.5,1.8),(2003.0,0.8),(2003.5,1.5),(2004.0,2.0),(2004.5,1.0),(2005.0,0.5),(2005.5,2.0),(2005.92,0.1)]
B08 = [(1990.0,0.0),(1990.1,3.5),(1990.3,1.5),(1990.7,0.8),(1991.1,0.3),(1991.6,1.0),(1992.1,0.4),(1992.6,1.2),(1993.1,0.5),(1993.6,1.0),(1994.1,0.3),(1994.6,1.5),(1995.1,2.5),(1995.6,3.5),(1996.0,2.5),(1996.4,3.5),(1996.8,4.5),(1997.1,5.0),(1997.4,4.5),(1997.7,6.0),(1998.0,5.5),(1998.2,4.5),(1998.5,5.0),(1998.8,4.0),(1999.1,3.5),(1999.4,4.5),(1999.7,3.5),(2000.0,2.5),(2000.3,3.5),(2000.6,2.5),(2000.9,3.5),(2001.2,4.0),(2001.5,3.0),(2001.8,2.0),(2002.2,1.0),(2002.6,0.5),(2003.0,1.5),(2003.4,3.0),(2003.8,4.0),(2004.1,5.5),(2004.4,5.0),(2004.7,4.0),(2004.9,1.0),(2005.2,0.5),(2005.6,1.5),(2005.92,0.0)]
B09 = [(1990.0,0.0),(1990.06,6.5),(1990.2,3.0),(1990.5,1.5),(1990.9,1.0),(1991.3,0.4),(1991.8,1.0),(1992.3,0.3),(1992.8,0.8),(1993.3,0.3),(1993.8,0.6),(1994.3,0.2),(1994.8,0.8),(1995.3,1.5),(1995.8,1.0),(1996.3,2.0),(1996.8,3.0),(1997.2,4.0),(1997.6,4.8),(1998.0,4.0),(1998.4,5.0),(1998.7,6.0),(1999.0,7.0),(1999.3,7.5),(1999.5,6.5),(1999.7,5.5),(2000.0,4.5),(2000.3,4.0),(2000.6,4.5),(2000.9,5.5),(2001.1,5.0),(2001.3,6.0),(2001.5,5.0),(2001.7,4.5),(2001.9,3.0),(2002.1,2.0),(2002.4,1.5),(2002.7,1.0),(2003.0,0.5),(2003.4,1.5),(2003.8,2.0),(2004.2,3.0),(2004.6,4.0),(2004.9,2.5),(2005.2,1.5),(2005.5,3.0),(2005.8,5.0),(2005.92,0.5)]
B10 = [(1990.0,0.0),(1990.05,2.0),(1990.3,0.8),(1990.8,0.3),(1991.5,0.6),(1992.2,0.2),(1992.9,0.5),(1993.6,0.2),(1994.3,0.4),(1995.0,0.1),(1995.7,0.3),(1996.4,0.1),(1997.1,0.2),(1997.8,0.1),(1998.5,0.2),(1999.2,0.1),(1999.9,0.3),(2000.6,0.5),(2001.3,0.8),(2002.0,0.5),(2002.7,0.3),(2003.4,0.6),(2004.1,0.3),(2004.8,0.6),(2005.5,0.2),(2005.92,0.0)]
B11 = [(1990.0,0.0),(1990.04,4.0),(1990.15,2.0),(1990.4,1.0),(1990.8,1.5),(1991.2,0.8),(1991.7,1.2),(1992.2,0.5),(1992.7,1.0),(1993.2,0.6),(1993.7,1.2),(1993.95,0.2),(1994.1,3.5),(1994.4,2.5),(1994.8,2.0),(1995.2,1.5),(1995.6,2.5),(1996.0,1.5),(1996.3,2.5),(1996.7,2.0),(1997.0,1.0),(1997.4,0.5),(1997.8,1.0),(1998.2,1.5),(1998.6,2.0),(1999.0,1.5),(1999.4,2.0),(1999.8,1.0),(2000.2,1.5),(2000.6,2.5),(2001.0,2.0),(2001.4,3.0),(2001.8,2.0),(2002.2,1.5),(2002.6,2.0),(2003.0,1.0),(2003.3,2.0),(2003.7,3.0),(2004.1,4.0),(2004.5,3.0),(2004.8,2.0),(2005.1,1.5),(2005.4,3.0),(2005.7,2.0),(2005.92,0.3)]
B12 = [(1990.0,0.0),(1990.08,8.0),(1990.2,5.0),(1990.35,3.0),(1990.6,2.0),(1990.85,3.0),(1990.92,0.5),(1991.3,1.0),(1991.8,0.5),(1992.3,1.0),(1992.8,0.5),(1993.3,1.0),(1993.8,0.5),(1994.0,2.5),(1994.3,2.0),(1994.7,1.5),(1995.0,1.0),(1995.1,5.5),(1995.3,6.0),(1995.6,5.5),(1995.8,5.0),(1996.0,4.0),(1996.3,3.0),(1996.6,2.5),(1996.9,2.0),(1997.2,3.0),(1997.5,4.5),(1997.8,4.0),(1998.1,3.0),(1998.4,2.5),(1998.8,2.0),(1999.2,1.5),(1999.6,2.5),(2000.0,2.0),(2000.4,1.0),(2000.8,2.0),(2001.2,3.0),(2001.6,2.0),(2002.0,1.5),(2002.4,1.0),(2002.8,0.5),(2003.2,1.0),(2003.6,2.5),(2004.0,3.5),(2004.3,4.5),(2004.6,5.0),(2004.9,3.5),(2005.2,4.0),(2005.5,3.0),(2005.8,4.5),(2005.92,0.0)]
B13 = [(1990.0,0.0),(1990.1,2.5),(1990.3,1.0),(1990.7,0.4),(1991.2,0.8),(1991.8,0.3),(1992.4,0.6),(1993.0,0.2),(1993.6,0.5),(1994.2,0.2),(1994.8,0.6),(1995.4,0.3),(1996.0,0.8),(1996.6,0.4),(1997.2,1.0),(1997.8,0.5),(1998.4,1.2),(1999.0,0.8),(1999.6,1.5),(2000.2,1.0),(2000.8,1.8),(2001.4,2.5),(2002.0,2.0),(2002.6,1.5),(2003.2,2.0),(2003.8,1.5),(2004.4,2.0),(2005.0,1.0),(2005.5,0.5),(2005.92,0.0)]
B14 = [(1990.0,0.0),(1990.07,10.0),(1990.15,6.0),(1990.3,4.5),(1990.5,3.5),(1990.8,3.0),(1991.0,1.0),(1991.4,2.0),(1991.8,1.5),(1992.2,2.5),(1992.6,2.0),(1993.0,1.0),(1993.5,1.5),(1994.0,1.0),(1994.5,2.0),(1995.0,1.5),(1995.5,2.0),(1996.0,1.0),(1996.5,1.5),(1997.0,1.0),(1997.5,2.0),(1998.0,1.5),(1998.5,2.5),(1999.0,2.0),(1999.5,2.5),(2000.0,2.0),(2000.5,3.0),(2001.0,3.5),(2001.5,2.5),(2002.0,2.0),(2002.5,2.5),(2003.0,3.0),(2003.3,4.0),(2003.6,5.0),(2003.9,5.5),(2004.2,6.0),(2004.4,5.0),(2004.55,9.5),(2004.7,7.0),(2004.9,5.0),(2005.1,3.0),(2005.4,2.0),(2005.6,5.0),(2005.8,5.5),(2005.92,0.5)]
B15 = [(1990.0,0.0),(1990.04,7.0),(1990.12,3.0),(1990.3,1.0),(1990.6,0.5),(1990.9,2.0),(1990.95,0.3),(1991.4,1.5),(1991.9,0.8),(1992.4,1.8),(1992.9,1.0),(1993.0,3.8),(1993.3,2.0),(1993.7,1.2),(1993.95,0.4),(1994.0,4.0),(1994.2,3.5),(1994.6,2.0),(1995.0,0.8),(1995.1,3.5),(1995.5,4.5),(1995.9,4.0),(1996.0,0.5),(1996.5,1.5),(1997.0,2.5),(1997.4,3.5),(1997.8,2.0),(1998.3,1.0),(1998.8,0.5),(1999.3,1.0),(1999.8,0.6),(2000.3,1.5),(2000.8,2.5),(2001.3,1.8),(2001.8,1.2),(2002.3,0.6),(2002.8,0.3),(2003.0,1.5),(2003.4,2.5),(2003.8,3.5),(2004.2,4.5),(2004.6,3.0),(2004.95,0.5),(2005.3,1.5),(2005.6,2.5),(2005.85,4.0),(2005.92,0.1)]
B16 = [(1990.0,0.0),(1990.06,3.0),(1990.2,1.0),(1990.6,0.3),(1991.0,0.8),(1991.5,0.2),(1992.0,0.5),(1992.5,0.2),(1993.0,0.4),(1993.5,0.1),(1994.0,0.3),(1994.5,0.1),(1995.0,0.4),(1995.5,0.8),(1996.0,0.5),(1996.5,1.2),(1997.0,0.8),(1997.5,1.5),(1998.0,1.0),(1998.5,0.6),(1999.0,0.3),(1999.5,0.6),(2000.0,0.3),(2000.5,0.8),(2001.0,1.2),(2001.5,1.8),(2002.0,1.0),(2002.5,0.5),(2003.0,0.2),(2003.5,0.8),(2004.0,1.5),(2004.5,2.5),(2005.0,1.5),(2005.5,0.8),(2005.8,2.5),(2005.92,0.0)]
B17 = [(1990.0,0.0),(1990.09,11.0),(1990.2,7.0),(1990.35,5.0),(1990.6,3.5),(1990.9,4.0),(1990.95,1.0),(1991.3,0.5),(1991.8,0.3),(1992.5,0.2),(1993.2,0.4),(1993.9,0.2),(1994.6,0.5),(1995.3,0.3),(1995.9,0.8),(1996.1,2.0),(1996.4,3.0),(1996.7,4.0),(1997.0,4.5),(1997.2,5.0),(1997.5,3.5),(1997.8,2.0),(1998.1,1.0),(1998.5,0.5),(1999.0,0.2),(1999.6,0.5),(2000.2,0.2),(2000.8,0.6),(2001.4,1.0),(2002.0,0.5),(2002.6,0.2),(2003.2,0.6),(2003.8,1.2),(2004.4,2.0),(2004.9,1.0),(2005.4,0.3),(2005.8,1.5),(2005.92,0.0)]

T95_A = 9.76
T95_B = 9.43
A_TICKS = list(range(1983, 2006))
A_LABELS = [str(y) if y % 2 == 1 else "" for y in A_TICKS]
B_TICKS = list(range(1990, 2006))
B_LABELS = [str(y) if y % 2 == 0 and y <= 2004 else "" for y in B_TICKS]
Y_TICKS = [0, 10, 20, 30, 40, 50]

A_SERIES = [A01, A02, A03, A04, A05, A06, A07, A08, A09, A10, A11, A12, A13, A14, A15,
            A16, A17, A18, A19, A20, A21, A22, A23, A24, A25, A26, A27, A28, A29]
B_SERIES = [B01, B02, B03, B04, B05, B06, B07, B08, B09, B10, B11, B12, B13, B14, B15, B16, B17]


def to_long(series_list):
    rows = []
    for k, s in enumerate(series_list):
        for t, v in s:
            rows.append((k, t, v))
    return pd.DataFrame(rows, columns=["pixel", "time", "value"])


sns.set_style("white")
plt.rcParams["font.family"] = ["Liberation Sans", "DejaVu Sans"]
plt.rcParams["text.color"] = "black"
plt.rcParams["axes.labelcolor"] = "black"

W, H = 1143, 662
fig = plt.figure(figsize=(W / 100, H / 100), dpi=100)


def px_axes(left, right, top, bottom):
    return fig.add_axes([left / W, 1 - bottom / H, (right - left) / W, (bottom - top) / H])


ax_a = px_axes(60.7, 569.3, 49.3, 612.3)
ax_b = px_axes(644.3, 1154.7, 49.3, 612.3)

panels = [
    (ax_a, A_SERIES, T95_A, A_TICKS, A_LABELS, (1982.083, 2006.834), "a)", 1983.67, 1983.33),
    (ax_b, B_SERIES, T95_B, B_TICKS, B_LABELS, (1989.363, 2006.554), "b)", 1990.60, 1990.49),
]

for ax, series, t95, ticks, labels, xlim, tag, tag_x, t95_x in panels:
    df = to_long(series)
    sns.lineplot(data=df, x="time", y="value", units="pixel", estimator=None,
                 color="black", linewidth=0.6, legend=False, ax=ax)
    ax.axhline(t95, color="#ff1a1a", linewidth=1.0, zorder=5)
    ax.text(t95_x, 10.43, "T95", color="#ff0000", fontsize=10, va="center", ha="left")
    ax.text(tag_x, 50.0, tag, fontsize=14, family="Liberation Serif", va="center", ha="left")
    ax.set_xlim(*xlim)
    ax.set_ylim(-2.04, 52.0)
    ax.set_xticks(ticks)
    ax.set_xticklabels(labels, fontsize=7, color="#444444")
    ax.set_yticks(Y_TICKS)
    ax.set_yticklabels([str(v) for v in Y_TICKS], fontsize=8.5, rotation=90, va="center",
                       color="black")
    ax.tick_params(axis="both", direction="out", length=4.3, width=0.8, color="#333333")
    ax.tick_params(axis="x", pad=5)
    ax.tick_params(axis="y", pad=6)
    ax.set_xlabel("Time", fontsize=10.5, labelpad=6)
    ax.set_ylabel("T Series", fontsize=10, labelpad=7)
    ax.set_title("T Series for every Pixel", fontsize=14.5, fontweight="bold", pad=13,
                 color="black")
    for sp in ax.spines.values():
        sp.set_color("#555555")
        sp.set_linewidth(0.9)

fig.savefig("out.png", dpi=100)
